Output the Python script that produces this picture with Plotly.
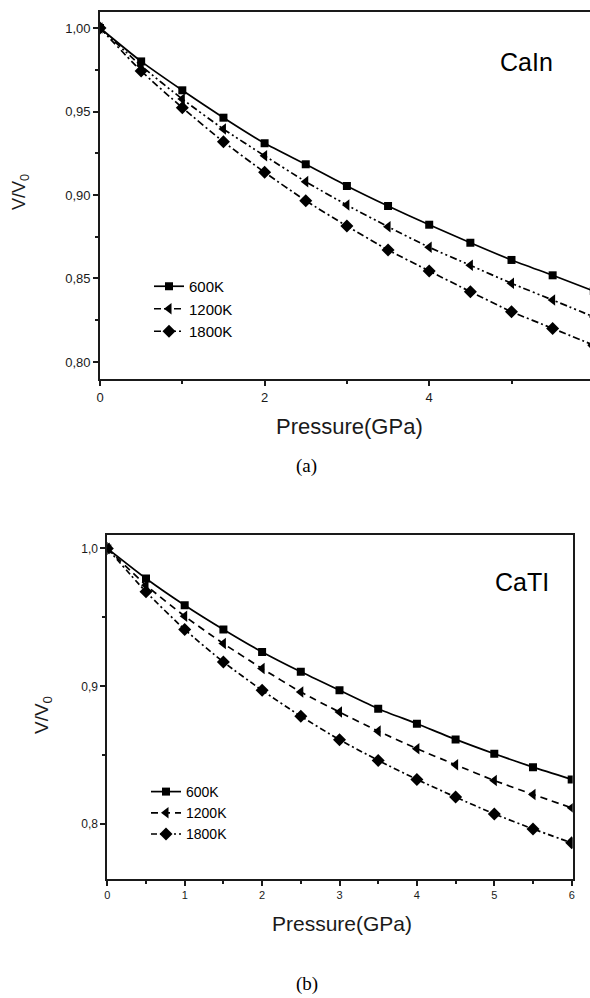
import plotly.graph_objects as go

W, H = 590, 998

pressure = [0, 0.5, 1, 1.5, 2, 2.5, 3, 3.5, 4, 4.5, 5, 5.5, 6]

cain_600 = [1.000, 0.980, 0.9627, 0.9463, 0.931, 0.9184, 0.9054, 0.8934, 0.8822, 0.8714, 0.8611, 0.8519, 0.8425]
cain_1200 = [1.000, 0.9774, 0.9575, 0.9395, 0.9235, 0.908, 0.894, 0.881, 0.8687, 0.8579, 0.8471, 0.8371, 0.8270]
cain_1800 = [1.000, 0.9743, 0.9523, 0.9319, 0.9136, 0.8966, 0.8814, 0.8671, 0.8545, 0.8421, 0.8301, 0.8201, 0.8100]

catl_600 = [1.000, 0.9782, 0.9588, 0.9412, 0.9249, 0.9105, 0.8971, 0.8838, 0.8729, 0.8615, 0.8511, 0.8414, 0.8325]
catl_1200 = [1.000, 0.9733, 0.9508, 0.931, 0.9129, 0.8959, 0.8813, 0.8675, 0.8548, 0.8431, 0.8317, 0.8216, 0.8119]
catl_1800 = [1.000, 0.9685, 0.9412, 0.9176, 0.8971, 0.8783, 0.8613, 0.8463, 0.8325, 0.8197, 0.8075, 0.7966, 0.7865]

series_names = ["600K", "1200K", "1800K"]

top_x_ticks = [0, 2, 4]
top_x_text = ["0", "2", "4"]
top_y_ticks = [0.80, 0.85, 0.90, 0.95, 1.00]
top_y_text = ["0,80", "0,85", "0,90", "0,95", "1,00"]

bot_x_ticks = [0, 1, 2, 3, 4, 5, 6]
bot_x_text = ["0", "1", "2", "3", "4", "5", "6"]
bot_y_ticks = [0.8, 0.9, 1.0]
bot_y_text = ["0,8", "0,9", "1,0"]

FONT = "Liberation Sans, Arial, sans-serif"
SERIF = "Liberation Serif, Times New Roman, serif"
INK = "#1a1a1a"


def px(x):
    return x / W


def py(y):
    return 1 - y / H


fig = go.Figure()

top_styles = [
    dict(dash="solid", symbol="square", size=8),
    dict(dash="7px,3px,2px,3px,2px,3px", symbol="triangle-left", size=10),
    dict(dash="7px,3px,2px,3px", symbol="diamond", size=10),
]
bot_styles = [
    dict(dash="solid", symbol="square", size=8),
    dict(dash="7px,5px", symbol="triangle-left", size=10),
    dict(dash="6px,3px,2px,3px", symbol="diamond", size=10),
]

for name, ys, st in zip(series_names, [cain_600, cain_1200, cain_1800], top_styles):
    fig.add_trace(go.Scatter(
        x=pressure, y=ys, name=name, mode="lines+markers",
        line=dict(color="black", width=1.7, dash=st["dash"], shape="spline", smoothing=0.6),
        marker=dict(symbol=st["symbol"], size=st["size"], color="black"),
        xaxis="x", yaxis="y", legend="legend",
    ))

for name, ys, st in zip(series_names, [catl_600, catl_1200, catl_1800], bot_styles):
    fig.add_trace(go.Scatter(
        x=pressure, y=ys, name=name, mode="lines+markers",
        line=dict(color="black", width=1.7, dash=st["dash"], shape="spline", smoothing=0.6),
        marker=dict(symbol=st["symbol"], size=st["size"], color="black"),
        xaxis="x2", yaxis="y2", legend="legend2",
    ))

axis_common = dict(
    showgrid=False, zeroline=False, showline=True, linecolor=INK, linewidth=1.8,
    ticks="outside", ticklen=5, tickwidth=1.5, tickcolor=INK, automargin=False,
)

fig.update_layout(
    width=W, height=H, margin=dict(l=0, r=0, t=0, b=0, autoexpand=False),
    paper_bgcolor="white", plot_bgcolor="white",
    font=dict(family=FONT, color=INK),
    xaxis=dict(
        domain=[px(100), 1.0], range=[0, 490 / 82.3], anchor="y",
        tickvals=top_x_ticks, ticktext=top_x_text, mirror=True,
        tickfont=dict(size=13), minor=dict(tick0=1, dtick=2, ticks="outside", ticklen=3, tickwidth=1.5, tickcolor=INK),
        **axis_common,
    ),
    yaxis=dict(
        domain=[py(379), py(12)], range=[0.7898, 1.0096], anchor="x",
        tickvals=top_y_ticks, ticktext=top_y_text, mirror=False,
        tickfont=dict(size=13), minor=dict(tick0=0.8, dtick=0.025, ticks="outside", ticklen=3, tickwidth=1.5, tickcolor=INK),
        **axis_common,
    ),
    xaxis2=dict(
        domain=[px(107.3), px(572.7)], range=[0, 6.013], anchor="y2",
        tickvals=bot_x_ticks, ticktext=bot_x_text, mirror=True,
        tickfont=dict(size=11), minor=dict(tick0=0, dtick=0.5, ticks="outside", ticklen=3, tickwidth=1.5, tickcolor=INK),
        **axis_common,
    ),
    yaxis2=dict(
        domain=[py(879), py(535)], range=[0.7603, 1.0097], anchor="x2",
        tickvals=bot_y_ticks, ticktext=bot_y_text, mirror=True,
        tickfont=dict(size=12), minor=dict(tick0=0.8, dtick=0.05, ticks="outside", ticklen=3, tickwidth=1.5, tickcolor=INK),
        **axis_common,
    ),
    legend=dict(
        x=px(149), y=py(270), xanchor="left", yanchor="top",
        bgcolor="rgba(0,0,0,0)", font=dict(size=15, family=FONT, color="black"), tracegroupgap=0,
        itemwidth=30,
    ),
    legend2=dict(
        x=px(146), y=py(776), xanchor="left", yanchor="top",
        bgcolor="rgba(0,0,0,0)", font=dict(size=14, family=FONT, color="black"), tracegroupgap=0,
        itemwidth=30,
    ),
    annotations=[
        dict(text="CaIn", x=px(526), y=py(62), xref="paper", yref="paper",
             xanchor="center", yanchor="middle",
             showarrow=False, font=dict(size=25, family=FONT, color="black")),
        dict(text="CaTI", x=px(522), y=py(582), xref="paper", yref="paper",
             xanchor="center", yanchor="middle",
             showarrow=False, font=dict(size=25, family=FONT, color="black")),
        dict(text="Pressure(GPa)", x=px(349.5), y=py(427), xref="paper", yref="paper",
             xanchor="center", yanchor="middle",
             showarrow=False, font=dict(size=22, family=FONT, color=INK)),
        dict(text="Pressure(GPa)", x=px(342), y=py(923), xref="paper", yref="paper",
             xanchor="center", yanchor="middle",
             showarrow=False, font=dict(size=21, family=FONT, color=INK)),
        dict(text="V/V<sub>0</sub>", x=px(21), y=py(192), xref="paper", yref="paper",
             xanchor="center", yanchor="middle",
             showarrow=False, textangle=-90, font=dict(size=18, family=FONT, color=INK)),
        dict(text="V/V<sub>0</sub>", x=px(43), y=py(715), xref="paper", yref="paper",
             xanchor="center", yanchor="middle",
             showarrow=False, textangle=-90, font=dict(size=19, family=FONT, color=INK)),
        dict(text="(a)", x=px(306), y=py(466), xref="paper", yref="paper",
             xanchor="center", yanchor="middle",
             showarrow=False, font=dict(size=19, family=SERIF, color="black")),
        dict(text="(b)", x=px(307), y=py(984), xref="paper", yref="paper",
             xanchor="center", yanchor="middle",
             showarrow=False, font=dict(size=19, family=SERIF, color="black")),
    ],
)

fig.write_html("out.html")
